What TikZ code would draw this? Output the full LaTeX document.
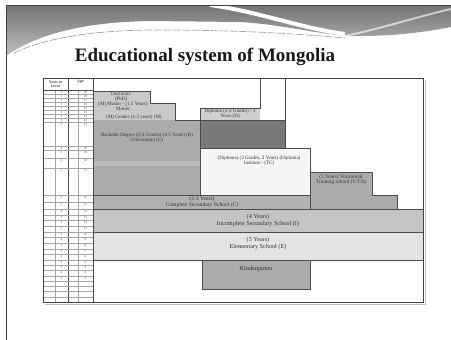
\documentclass[tikz,border=0pt]{standalone}
\usepackage{fontspec}
\setmainfont{Liberation Serif}
\usetikzlibrary{positioning}

\begin{document}
\begin{tikzpicture}[
  x=1pt, y=-1pt,
  edge/.style={draw=black!70, line width=0.6pt},
  grid/.style={draw=black!35, line width=0.35pt},
  lbl/.style={font=\fontsize{5}{5.3}\selectfont, align=center, inner sep=0pt, text=black!80},
  band/.style={font=\fontsize{6.2}{6.2}\selectfont, align=center, inner sep=0pt, text=black!80},
  cell/.style={font=\fontsize{3.2}{3.4}\selectfont, inner sep=0pt, text=black!70}
]
\useasboundingbox[fill=white] (0,0) rectangle (451,340);

% slide header swoosh
\shade[top color=black!55, bottom color=black!25] (6,5) -- (6,56)
  .. controls (40,32) and (90,22) .. (150,21) -- (240,22)
  .. controls (290,25) and (320,36) .. (360,36)
  .. controls (400,36) and (430,31) .. (451,27) -- (451,5) -- cycle;
\draw[white, line width=4pt] (210,5) .. controls (260,12) and (300,28) .. (345,34);
\draw[white, line width=2pt, opacity=0.6] (340,37) .. controls (380,29) and (420,16) .. (451,9);
\draw[black!35, line width=0.7pt, dash pattern=on 8pt off 1.5pt] (14,53)
  .. controls (50,36) and (100,30) .. (160,30)
  .. controls (240,30) and (300,34) .. (345,38);
\draw[black!75, line width=0.9pt] (6,340) -- (6,5) -- (451,5);

\node[font=\fontsize{19}{22}\selectfont\bfseries, anchor=base, text=black!90] (title)
  at (205,62) {Educational system of Mongolia};

% blocks of the chart
\fill[black!21] (93,91) -- (150,91) -- (150,103) -- (175,103) -- (175,120) -- (93,120) -- cycle;
\fill[black!19] (200,108) rectangle (260,120);
\fill[black!33] (93,120) rectangle (200,195);
\fill[black!27] (93,161) rectangle (200,166);
\fill[black!53] (200,120) rectangle (285,148);
\fill[black!4] (200,148) rectangle (310,195);
\fill[black!33] (310,172) -- (372,172) -- (372,195) -- (397,195) -- (397,209) -- (310,209) -- cycle;
\fill[black!30] (93,195) rectangle (310,209);
\fill[black!23] (93,209) rectangle (423,232);
\fill[black!11] (93,232) rectangle (423,260);
\fill[black!33] (202,260) rectangle (310,289);

% outlines
\draw[edge] (93,91) -- (150,91) -- (150,103) -- (175,103) -- (175,120) -- (200,120)
  -- (200,108) -- (260,108) -- (260,78);
\draw[edge] (285,78) -- (285,148) -- (310,148) -- (310,172) -- (372,172) -- (372,195)
  -- (397,195) -- (397,209);
\draw[edge] (200,120) -- (285,120);
\draw[edge] (200,120) -- (200,195);
\draw[edge] (200,148) -- (285,148);
\draw[edge] (310,172) -- (310,209);
\draw[edge, line width=0.9pt] (43,195) -- (310,195);
\draw[edge] (93,209) -- (423,209);
\draw[edge] (93,232) -- (423,232);
\draw[edge] (93,260) -- (423,260);
\draw[edge] (202,260) -- (202,289) -- (310,289) -- (310,260);

% years and age columns
\draw[grid] (55,90) -- (55,302);
\draw[grid] (78,90) -- (78,302);
\draw[edge] (68,78) -- (68,302);
\draw[edge] (93,78) -- (93,302);
\draw[edge] (43,90) -- (93,90);
\node[font=\fontsize{4}{4.4}\selectfont, align=center, inner sep=0pt] (hyears) at (55.5,84) {Years in\\Level};
\node[font=\fontsize{4}{4.4}\selectfont, inner sep=0pt] (hage) at (80.5,81.5) {Age};
\foreach \ya/\yb/\yr/\ag [count=\i] in {
    90/94/3/29, 94/98/2/28, 98/102/1/27, 102/106/2/26, 106/110/1/25,
    110/114/3/24, 114/118/2/23, 118/122/1/22, 122/146/5/21, 146/150/4/20,
    150/158/3/19, 158/168/2/18, 168/195/1/17, 195/202/2/16, 202/209/1/15,
    209/214.75/4/14, 214.75/220.5/3/13, 220.5/226.25/2/12, 226.25/232/1/11,
    232/237.6/5/10, 237.6/243.2/4/9, 243.2/248.8/3/8, 248.8/254.4/2/7,
    254.4/260/1/6, 260/265.25/4/5, 265.25/270.5/3/4, 270.5/275.75/2/3,
    275.75/281/1/2, 281/286.25//, 286.25/291.5//, 291.5/296.75//, 296.75/302//} {
  \draw[grid] (43,\yb) -- (93,\yb);
  \node[cell] (yr\i) at (61.5,\ya+2.3) {\yr};
  \node[cell] (ag\i) at (85.5,\ya+2.3) {\ag};
}

% frame
\draw[black!25, line width=1pt] (45,304) -- (425,304) -- (425,80);
\draw[black!75, line width=0.9pt] (43,78) rectangle (423,302);

% labels
\node[lbl] (phd) at (121,97) {Doctorate\\(PhD)};
\node[lbl] (master) at (123,106.5) {(M) Master - (1.5 Years)\\Master};
\node[lbl] (mgrade) at (134,117) {(M) Grades (1-2 years) (M)};
\node[lbl] (diploma) at (230,114) {Diploma (2-3 Grades) - 3\\Years (D)};
\node[lbl] (bachelor) at (147,138) {Bachelor Degree (2-3 Grades) (4-5 Years) (B)\\(University) (U)};
\node[lbl] (inst) at (259,161) {(Diploma) (3 Grades, 2 Years) (Diploma)\\Institute - (TC)};
\node[lbl, font=\fontsize{5.3}{5.5}\selectfont] (vts) at (341,179.5) {(3 Years) Vocational\\Training school (V.T.S)};
\node[band, font=\fontsize{5.6}{5.6}\selectfont] (complete) at (202,202) {(2-3 Years)\\Complete Secondary School (C)};
\node[band] (incomplete) at (258,220.5) {(4 Years)\\Incomplete Secondary School (I)};
\node[band] (elementary) at (258,243.5) {(5 Years)\\Elementary School (E)};
\node[band] (kinder) at (256,269) {Kindergarten};
\end{tikzpicture}
\end{document}
